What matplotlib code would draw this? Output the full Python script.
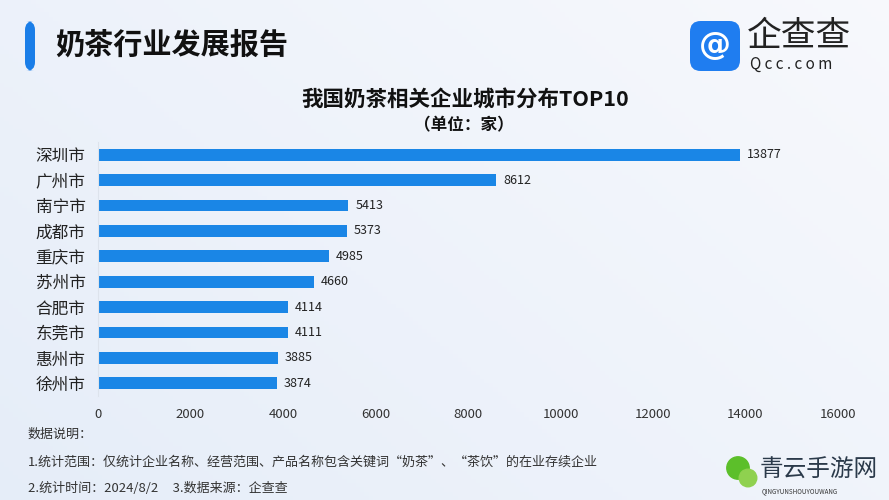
import numpy as np
import matplotlib.pyplot as plt
from matplotlib.patches import FancyBboxPatch

plt.rcParams['font.family'] = ['Noto Sans CJK SC', 'DejaVu Sans']

cities = ['深圳市', '广州市', '南宁市', '成都市', '重庆市', '苏州市', '合肥市', '东莞市', '惠州市', '徐州市']
counts = [13877, 8612, 5413, 5373, 4985, 4660, 4114, 4111, 3885, 3874]
xticks = [0, 2000, 4000, 6000, 8000, 10000, 12000, 14000, 16000]

bar_color = '#1a86e6'

fig = plt.figure(figsize=(8.89, 5), dpi=100)

# background gradient
bg = fig.add_axes([0, 0, 1, 1])
gx = np.linspace(0, 1, 200)
gy = np.linspace(0, 1, 120)
X, Y = np.meshgrid(gx, gy)
g = np.clip(0.6 * X + 0.4 * (1 - Y), 0, 1)
c0 = np.array([0.90, 0.93, 0.975])
c1 = np.array([0.97, 0.975, 0.99])
img = c0[None, None, :] * (1 - g[..., None]) + c1[None, None, :] * g[..., None]
bg.imshow(img, aspect='auto', extent=[0, 1, 0, 1], origin='upper')
bg.set_xlim(0, 1)
bg.set_ylim(0, 1)
bg.axis('off')

# header
bg.add_patch(FancyBboxPatch((25 / 889, 1 - 71 / 500), 10 / 889, 50 / 500,
                            boxstyle='round,pad=0,rounding_size=0.01',
                            fc='#1a7ee8', ec='none', mutation_aspect=889 / 500))
bg.text(55 / 889, 1 - 45 / 500, '奶茶行业发展报告', fontsize=21, fontweight='bold',
        color='#111111', va='center', ha='left')

# logo
bg.add_patch(FancyBboxPatch((690 / 889, 1 - 71 / 500), 50 / 889, 50 / 500,
                            boxstyle='round,pad=0,rounding_size=0.012',
                            fc='#1f7df0', ec='none', mutation_aspect=889 / 500))
bg.text(715 / 889, 1 - 46 / 500, '@', fontsize=23, color='white', ha='center', va='center',
        fontweight='bold', family='DejaVu Sans')
bg.text(747 / 889, 1 - 37 / 500, '企查查', fontsize=25, color='#222222', ha='left', va='center')
bg.text(750 / 889, 1 - 64 / 500, 'Q c c . c o m', fontsize=11, color='#222222', ha='left', va='center')

# chart titles
bg.text(465 / 889, 1 - 100 / 500, '我国奶茶相关企业城市分布TOP10', fontsize=15.5, fontweight='bold',
        color='#111111', ha='center', va='center')
bg.text(464 / 889, 1 - 125 / 500, '（单位：家）', fontsize=12, fontweight='bold',
        color='#111111', ha='center', va='center')

# notes
note_c = '#333333'
bg.text(28 / 889, 1 - 434 / 500, '数据说明：', fontsize=9.4, color=note_c, va='center')
bg.text(28 / 889, 1 - 462 / 500, '1.统计范围：仅统计企业名称、经营范围、产品名称包含关键词“奶茶”、“茶饮”的在业存续企业',
        fontsize=9.4, color=note_c, va='center')
bg.text(28 / 889, 1 - 488 / 500, '2.统计时间：2024/8/2     3.数据来源：企查查',
        fontsize=9.4, color=note_c, va='center')

# watermark
bg.text(760 / 889, 1 - 470 / 500, '青云手游网', fontsize=17, color='#2b3a4a', ha='left', va='center')
bg.text(762 / 889, 1 - 491 / 500, 'QINGYUNSHOUYOUWANG', fontsize=4.5, color='#333333', ha='left', va='center')
bg.scatter([738 / 889, 748 / 889], [1 - 468 / 500, 1 - 478 / 500], s=[260, 160],
           c=['#5cbf2a', '#8fd14f'], marker='o')

# bar chart
ax = fig.add_axes([98 / 889, 1 - 396 / 500, 740 / 889, 254 / 500])
ax.patch.set_alpha(0)
y = np.arange(len(cities))
ax.barh(y, counts, height=0.47, color=bar_color)
for yi, v in zip(y, counts):
    ax.text(v + 150, yi, str(v), va='center', ha='left', fontsize=9, color='#222222')
ax.set_yticks(y)
ax.set_yticklabels(cities, fontsize=12, color='#222222')
ax.set_ylim(len(cities) - 0.5, -0.5)
ax.set_xlim(0, 16000)
ax.set_xticks(xticks)
ax.set_xticklabels([str(t) for t in xticks], fontsize=9.5, color='#333333')
ax.tick_params(axis='y', length=0, pad=9)
ax.tick_params(axis='x', length=0, pad=9)
for s in ax.spines.values():
    s.set_visible(False)
ax.spines['left'].set_visible(True)
ax.spines['left'].set_color('#dde3ec')

fig.savefig('out.png', dpi=100)
